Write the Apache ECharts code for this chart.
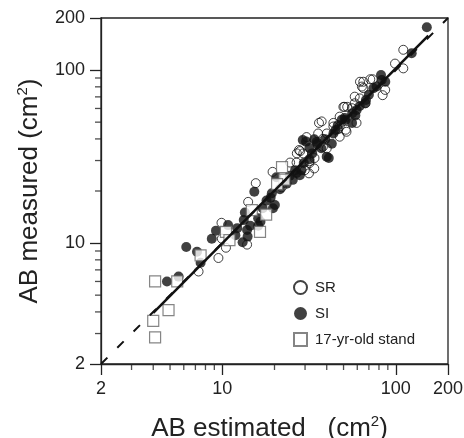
<!DOCTYPE html>
<html>
<head>
<meta charset="utf-8">
<script src="https://cdn.jsdelivr.net/npm/echarts@6/dist/echarts.min.js"></script>
<style>
  html, body { margin: 0; padding: 0; background: #fff; }
  #main { width: 464px; height: 438px; }
</style>
</head>
<body>
<div id="main"></div>
<script>
// tick values (log axes, 2..200)
var majorTicks = [2, 10, 100, 200];
var minorTicks = [3, 4, 5, 6, 7, 8, 9, 20, 30, 40, 50, 60, 70, 80, 90];

// SR - open circles [estimated, measured]
var srData = [
  [7.3, 6.85], [9.5, 8.2], [9.95, 10.6], [10.5, 9.4], [9.9, 13.1], [13.9, 9.8],
  [14.1, 17.3], [15.6, 22.2], [19.5, 25.8], [27.7, 34.5], [36.1, 49.5], [29.9, 26.4],
  [31.8, 29.0], [31.6, 25.3], [40, 43], [43.7, 47.2], [47.5, 47.2], [26.8, 29.2],
  [24.6, 29.2], [26.9, 33.0], [28.1, 34.0], [30.6, 41.0], [31.8, 29.7], [33.9, 27.0],
  [38.0, 36.0], [49.9, 61.3], [52.5, 61.3], [56, 60.2], [67.0, 64.3], [47.5, 53.8],
  [51.5, 45.2], [47.5, 41.2], [46.5, 45.5], [52, 44], [40, 35.2], [35.7, 43.0],
  [29.3, 33.0], [59.4, 49.5], [62, 68.6], [110.5, 131], [99, 109], [110.5, 102.3],
  [71.3, 88.5], [73.6, 88.5], [86.9, 76.8], [84, 71.6], [62.2, 85.6], [65, 78.7],
  [58.0, 70.2], [50.6, 61.3], [43.7, 49.5], [37.4, 50.5], [63.8, 80.3], [58, 64.3],
  [65, 85.6], [22, 21], [34, 31], [38, 40]
];

// SI - filled circles
var siData = [
  [4.8, 6.0], [5.6, 6.4], [7.5, 7.7], [7.15, 8.9], [6.2, 9.5], [8.7, 10.6],
  [9.2, 11.8], [11.9, 11.1], [13.1, 10.1], [14.0, 10.9], [13.9, 11.9], [12.2, 12.2],
  [10.8, 12.7], [13.5, 15.0], [13.3, 13.6], [16.1, 13.9], [17.1, 15.9], [16.6, 13.3],
  [15.3, 19.8], [19.0, 18.3], [19.3, 19.4], [20.1, 16.6], [18.0, 17.6], [20.5, 24.0],
  [25.5, 23.2], [26.8, 25.4], [19.6, 15.9], [16.1, 12.6], [14.5, 12.6], [21.5, 20.5],
  [23.5, 22.0], [24.5, 24.5], [29.1, 39.4], [31.8, 35.5], [33.9, 39.8], [35.3, 37.5],
  [42.8, 37.5], [41.1, 31.0], [26.3, 26.4], [28.6, 26.4], [43.7, 43.0], [48.9, 51.7],
  [51.3, 51.5], [56, 49.5], [58.5, 54.6], [30.4, 38.6], [40, 31.6], [35, 38.4],
  [28.0, 24.7], [31.8, 30.5], [37.2, 35.3], [39.2, 39.8], [45, 45], [46.3, 48],
  [50.7, 52.8], [33, 33], [29.5, 29], [151, 177], [123.5, 125], [82.2, 93.6],
  [83, 87.7], [87, 85.7], [77.6, 80.3], [74.3, 78.6], [67.3, 67.2], [66.6, 64.3],
  [59.5, 58.8], [56.1, 56.3], [62, 62], [70, 72]
];

// 17-yr-old stand - open squares
var standData = [
  [4.1, 6.0], [5.5, 6.0], [4.9, 4.1], [4.0, 3.55], [4.1, 2.85], [7.5, 8.5],
  [10.5, 11.6], [11.0, 10.4], [14.8, 15.5], [17.9, 14.6], [16.5, 11.6], [22.1, 27.5],
  [22.8, 23.3], [20.7, 21.9]
];

// 1:1 line and fitted line
var oneToOne = [[2, 2], [200, 200]];
var fitLine = [[4, 3.95], [154, 158]];

var ink = '#222';
var fontFam = 'Arial, "Liberation Sans", sans-serif';

var nameRich = {
  t: { fontSize: 26, lineHeight: 30, color: ink, fontFamily: fontFam },
  s: { fontSize: 15, lineHeight: 15, verticalAlign: 'top', color: ink, fontFamily: fontFam }
};

function mainAxis(name, gap, pad, pos) {
  return {
    type: 'log', logBase: 10, min: 2, max: 200, position: pos,
    name: name, nameLocation: 'middle', nameGap: gap,
    nameTextStyle: { rich: nameRich, padding: pad },
    axisLine: { show: true, onZero: false, lineStyle: { color: ink, width: 1.3 } },
    axisTick: { show: true, inside: false, length: 11, customValues: majorTicks,
      lineStyle: { color: ink, width: 1.3 } },
    axisLabel: { customValues: majorTicks, fontSize: 18, color: ink, margin: 16, fontFamily: fontFam },
    splitLine: { show: false },
    minorTick: { show: false }
  };
}

// minor ticks: thin bar symbols sitting on the axes at 3..9, 20..90
var xMinorMarks = minorTicks.map(function (v) { return [v, 2]; });
var yMinorMarks = minorTicks.map(function (v) { return [2, v]; });

var chart = echarts.init(document.getElementById('main'));
chart.setOption({
  animation: false,
  backgroundColor: '#fff',
  grid: {
    left: 101, top: 18, width: 347, height: 346,
    outerBoundsMode: 'none', containLabel: false,
    show: true, borderColor: ink, borderWidth: 1.3, backgroundColor: 'transparent'
  },
  legend: {
    orient: 'vertical', left: 293, top: 280,
    itemWidth: 13, itemHeight: 13, itemGap: 11, padding: 0,
    data: ['SR', 'SI', '17-yr-old stand'],
    textStyle: { fontSize: 15, color: ink, fontFamily: fontFam, padding: [0, 0, 0, 3] }
  },
  xAxis: mainAxis('{t|AB estimated   (cm}{s|2}{t|)}', 50, [0, 10, 0, 0], 'bottom'),
  yAxis: mainAxis('{t|AB measured (cm}{s|2}{t|)}', 56, 0, 'left'),
  series: [
    {
      name: 'SR', type: 'scatter', data: srData,
      symbol: 'circle', symbolSize: 9,
      itemStyle: { color: 'rgba(255,255,255,0)', borderColor: '#111', borderWidth: 1 }
    },
    {
      name: 'SI', type: 'scatter', data: siData,
      symbol: 'circle', symbolSize: 10,
      itemStyle: { color: '#111' }
    },
    {
      type: 'line', data: oneToOne, showSymbol: false, silent: true,
      lineStyle: { color: '#111', width: 2, type: [9, 14] }
    },
    {
      type: 'line', data: fitLine, showSymbol: false, silent: true,
      lineStyle: { color: '#111', width: 2.5 }
    },
    {
      name: '17-yr-old stand', type: 'scatter', data: standData,
      symbol: 'rect', symbolSize: 11,
      itemStyle: { color: '#fff', borderColor: '#666', borderWidth: 1.2 }
    },
    {
      type: 'scatter', data: xMinorMarks, silent: true, clip: false, z: 5,
      symbol: 'rect', symbolSize: [1.3, 6], symbolOffset: [0, 3],
      itemStyle: { color: ink }
    },
    {
      type: 'scatter', data: yMinorMarks, silent: true, clip: false, z: 5,
      symbol: 'rect', symbolSize: [6, 1.3], symbolOffset: [-3, 0],
      itemStyle: { color: ink }
    }
  ]
});
</script>
</body>
</html>
